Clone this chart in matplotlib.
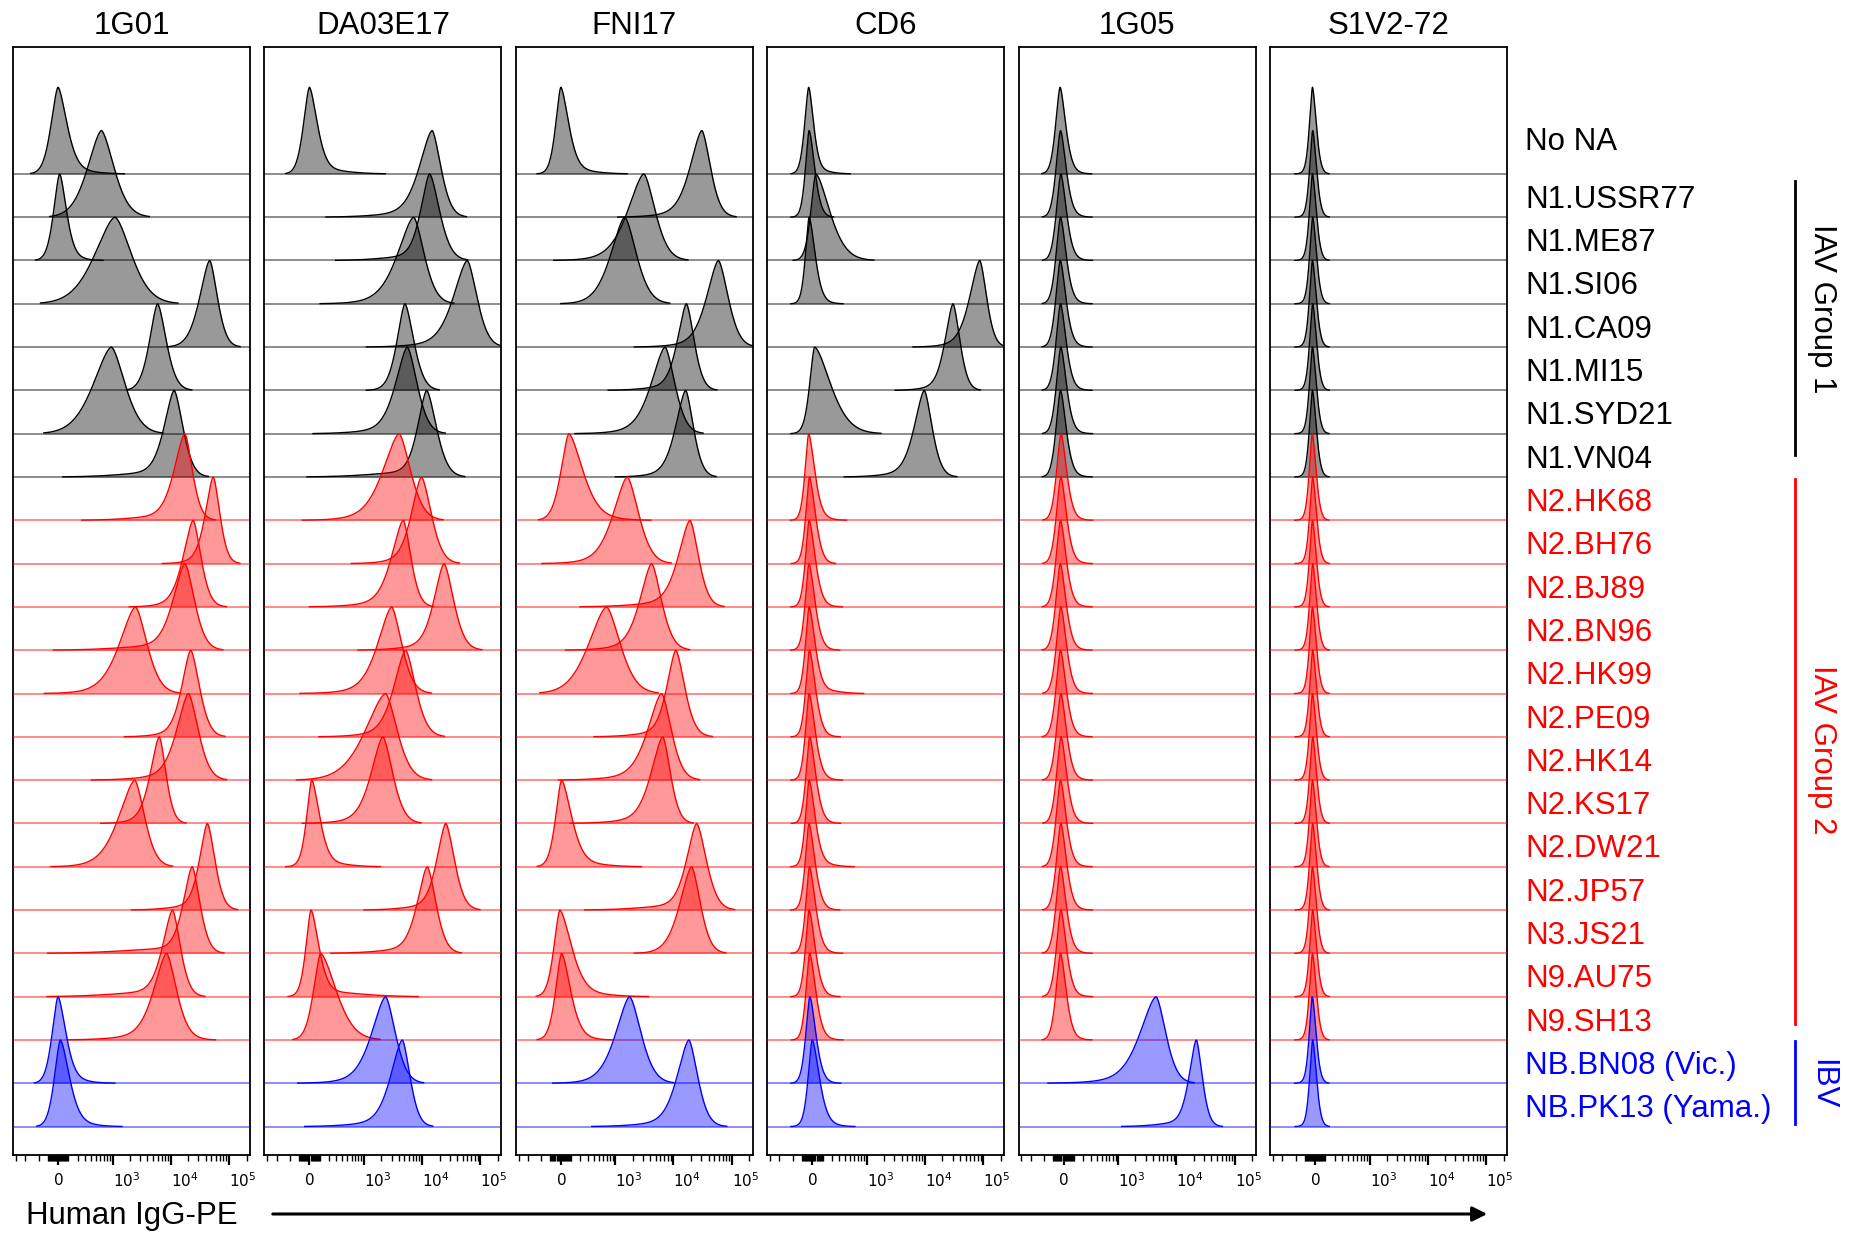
import numpy as np
import matplotlib
matplotlib.use("Agg")
import matplotlib.pyplot as plt
from matplotlib.lines import Line2D
from matplotlib.patches import FancyArrowPatch
from matplotlib.transforms import blended_transform_factory

plt.rcParams['font.family'] = ['Liberation Sans', 'DejaVu Sans']

# ---------------- data ----------------
antibodies = ["1G01", "DA03E17", "FNI17", "CD6", "1G05", "S1V2-72"]
samples = ["No NA", "N1.USSR77", "N1.ME87", "N1.SI06", "N1.CA09", "N1.MI15",
           "N1.SYD21", "N1.VN04", "N2.HK68", "N2.BH76", "N2.BJ89", "N2.BN96",
           "N2.HK99", "N2.PE09", "N2.HK14", "N2.KS17", "N2.DW21", "N2.JP57",
           "N3.JS21", "N9.AU75", "N9.SH13", "NB.BN08 (Vic.)", "NB.PK13 (Yama.)"]
sample_group = ["none"] + ["g1"] * 7 + ["g2"] * 13 + ["ibv"] * 2

# modal PE intensity of each histogram (a.u.)
peak_1G01 = [0, 631, 15, 1100, 46700, 5980, 952, 11500, 17500, 53700, 24300, 17500,
             2500, 22100, 20200, 6390, 2430, 42600, 23400, 10800, 8520, 0, 22]
peak_DA03E17 = [0, 14900, 13500, 7200, 59600, 5100, 5600, 12000, 4040, 9800, 4770, 23800,
                3020, 5240, 2370, 2130, 22, 25500, 12300, 15, 107, 2370, 4600]
peak_FNI17 = [0, 30700, 3110, 1460, 59000, 16700, 7200, 16200, 76, 1610, 19200, 4230,
              696, 11000, 6270, 6570, 7, 25000, 20500, -9, 7, 1770, 18400]
peak_CD6 = [-33, -29, 33, -29, 87400, 30400, 22, 9800, -33, -26, -29, -31, -29, -26,
            -29, -24, -29, -31, -26, -29, -24, -22, 0]
peak_1G05 = [-33, -29, -26, -29, -31, -29, -26, -29, -24, -26, -29, -31, -26, -29,
             -26, -24, -29, -26, -29, -26, -29, 4515, 22100]
peak_S1V2 = [-24, -22, -24, -22, -24, -22, -24, -24, -26, -22, -24, -22, -24, -22,
             -24, -22, -24, -22, -24, -22, -24, -26, -22]

# half widths at half maximum (left / right), in fraction of the display axis
hwl_1G01 = [.033, .065, .028, .095, .047, .038, .085, .047, .05, .037, .047, .055, .075, .042, .055, .042, .075, .037, .042, .047, .06, .028, .028]
hwr_1G01 = [.042, .06, .032, .08, .037, .042, .065, .042, .037, .032, .037, .047, .055, .042, .047, .032, .047, .037, .037, .037, .047, .037, .042]
hwl_DA03E17 = [.028, .06, .042, .075, .065, .037, .055, .042, .075, .047, .055, .047, .065, .055, .095, .055, .024, .042, .047, .024, .033, .065, .055]
hwr_DA03E17 = [.037, .042, .047, .05, .047, .042, .047, .047, .055, .047, .037, .047, .047, .047, .055, .047, .037, .042, .042, .037, .075, .047, .037]
hwl_FNI17 = [.024, .055, .075, .065, .055, .042, .065, .047, .037, .065, .055, .055, .085, .042, .065, .055, .028, .047, .055, .028, .028, .065, .055]
hwr_FNI17 = [.037, .042, .055, .055, .047, .037, .047, .037, .065, .055, .042, .047, .065, .042, .047, .037, .047, .047, .042, .055, .042, .055, .042]
hwl_CD6 = [.019, .017, .023, .017, .047, .037, .023, .047, .017, .017, .017, .017, .017, .017, .017, .017, .017, .017, .017, .017, .017, .019, .019]
hwr_CD6 = [.023, .026, .065, .028, .033, .033, .075, .037, .028, .028, .028, .028, .028, .028, .028, .028, .028, .028, .028, .028, .028, .028, .033]
hwl_1G05 = [.021] * 21 + [.075, .034]
hwr_1G05 = [.026] * 21 + [.047, .028]
hwl_S1V2 = [.014] * 23
hwr_S1V2 = [.018] * 23

# reach of the event tails beyond the mode (left / right), fraction of the axis
rl_1G01 = [.09, .193, .092, .275, .17, .12, .275, .46, .425, .205, .26, .545, .375, .27, .40, .237, .344, .31, .60, .52, .408, .085, .087]
rr_1G01 = [.27, .177, .173, .175, .10, .10, .19, .116, .075, .075, .13, .105, .156, .12, .14, .093, .136, .08, .124, .127, .197, .23, .25]
rl_DA03E17 = [.087, .438, .387, .385, .416, .153, .388, .495, .398, .286, .386, .353, .377, .356, .366, .33, .10, .335, .397, .087, .107, .361, .402]
rr_DA03E17 = [.31, .122, .15, .14, .114, .127, .127, .122, .142, .123, .084, .102, .158, .154, .184, .145, .28, .105, .113, .443, .173, .139, .098]
rl_FNI17 = [.09, .345, .37, .26, .345, .32, .37, .287, .114, .35, .455, .353, .223, .335, .425, .38, .093, .463, .232, .086, .093, .315, .40]
rr_FNI17 = [.27, .095, .125, .18, .12, .10, .126, .113, .336, .14, .095, .147, .197, .145, .12, .10, .327, .117, .113, .364, .207, .16, .15]
rl_CD6 = [.065, .067, .085, .067, .272, .234, .09, .328, .067, .067, .067, .067, .067, .067, .067, .067, .067, .067, .067, .067, .067, .07, .08]
rr_CD6 = [.165, .093, .235, .133, .083, .086, .27, .127, .15, .10, .13, .12, .22, .12, .13, .12, .18, .12, .13, .12, .13, .12, .17]
rl_1G05 = [.057] * 21 + [.446, .305]
rr_1G05 = [.123] * 21 + [.12, .10]
rl_S1V2 = [.064] * 23
rr_S1V2 = [.06] * 23

panel_data = {
    "1G01": (peak_1G01, hwl_1G01, hwr_1G01, rl_1G01, rr_1G01),
    "DA03E17": (peak_DA03E17, hwl_DA03E17, hwr_DA03E17, rl_DA03E17, rr_DA03E17),
    "FNI17": (peak_FNI17, hwl_FNI17, hwr_FNI17, rl_FNI17, rr_FNI17),
    "CD6": (peak_CD6, hwl_CD6, hwr_CD6, rl_CD6, rr_CD6),
    "1G05": (peak_1G05, hwl_1G05, hwr_1G05, rl_1G05, rr_1G05),
    "S1V2-72": (peak_S1V2, hwl_S1V2, hwr_S1V2, rl_S1V2, rr_S1V2),
}

group_color = {"none": "black", "g1": "black", "g2": "#ff0000", "ibv": "#0000ff"}

# ---------------- display scale (biexponential-like) ----------------
LIN_W = 236.0
F0 = 0.19
K = 0.107
CORE_P = 1.6


def to_frac(v):
    return F0 + K * np.arcsinh(np.asarray(v, dtype=float) / LIN_W)


def from_frac(f):
    return LIN_W * np.sinh((np.asarray(f, dtype=float) - F0) / K)


def hist_curve(vpk, hl, hr, rl, rr, n=700):
    c = float(to_frac(vpk))
    lo = max(0.0, c - max(rl, 3.2 * hl) - 0.01)
    hi = min(1.0, c + max(rr, 3.2 * hr) + 0.01)
    f = np.linspace(lo, hi, n)
    d = f - c
    h = np.where(d < 0, hl, hr)
    core = np.exp(-np.log(2) * (np.abs(d) / h) ** CORE_P)
    t = np.where(d < 0, rl, rr) / 2.6
    tail = np.exp(-0.5 * (d / t) ** 2)
    y = (core + 0.07 * tail) / 1.07
    return from_frac(f), y


W, H = 1855, 1235
fig = plt.figure(figsize=(W / 100, H / 100), dpi=100)

n = len(samples)
Y_TOP = (n - 1) + 2.93
Y_BOT = -0.656
PEAK_H = 2.0

minor_ticks = ([-600, -400, -200] + list(range(-100, 101, 10)) +
               list(range(200, 1000, 100)) + list(range(2000, 10000, 1000)) +
               list(range(20000, 100000, 10000)) + [200000])
minor_ticks = [m for m in minor_ticks if m != 0]

axes = []
for i, ab in enumerate(antibodies):
    left = 13 + i * 251.4
    ax = fig.add_axes([left / W, 1 - 1155 / H, 237 / W, 1108 / H])
    ax.set_xscale('asinh', linear_width=LIN_W)
    ax.set_xlim(float(from_frac(0.0)), float(from_frac(1.0)))
    ax.set_ylim(Y_BOT, Y_TOP)
    pk, hl, hr, rl, rr = panel_data[ab]
    for k in range(n):
        base = n - 1 - k
        col = group_color[sample_group[k]]
        ax.axhline(base, color=col, alpha=0.45, lw=1.4, zorder=1 + 3 * k)
        v, y = hist_curve(pk[k], hl[k], hr[k], rl[k], rr[k])
        ax.fill_between(v, base, base + PEAK_H * y, color=col, alpha=0.4,
                        lw=0, zorder=2 + 3 * k)
        ax.plot(v, base + PEAK_H * y, color=col, lw=1.0, zorder=3 + 3 * k)
    ax.set_yticks([])
    ax.set_xticks([0, 1e3, 1e4, 1e5], labels=['$0$', '$10^3$', '$10^4$', '$10^5$'])
    ax.set_xticks(minor_ticks, minor=True)
    ax.set_xticklabels([], minor=True)
    ax.tick_params(axis='x', which='major', length=7, width=1.6, direction='out',
                   labelsize=11, pad=5, colors='black')
    ax.tick_params(axis='x', which='minor', length=4, width=1.0, direction='out')
    for lab in ax.get_xticklabels()[1:]:
        lab.set_ha('left')
    for sp in ax.spines.values():
        sp.set_linewidth(1.3)
    fig.text((left + 118.5) / W, 1 - 26 / H, ab, ha='center', va='center', fontsize=22.5)
    axes.append(ax)

axl = axes[-1]
trans = blended_transform_factory(fig.transFigure, axl.transData)

# row labels
for k, name in enumerate(samples):
    col = group_color[sample_group[k]]
    base = n - 1 - k
    ylab = base + 0.74 if k == 0 else base + 0.40
    fig.text(1525 / W, ylab, name, transform=trans, ha='left', va='center',
             fontsize=22.5, color=col)

# group brackets
group_spans = [("IAV Group 1", "black", 21.84, 15.51, 18.88),
               ("IAV Group 2", "#ff0000", 14.96, 2.37, 8.70),
               ("IBV", "#0000ff", 1.98, 0.06, 0.98)]
for txt, col, y0, y1, yc in group_spans:
    fig.add_artist(Line2D([1795 / W, 1795 / W], [y0, y1], transform=trans,
                          color=col, lw=2.0))
    fig.text(1822 / W, yc, txt, transform=trans, rotation=270, ha='center',
             va='center', fontsize=22.5, color=col)

# x-axis title and arrow
fig.text(26 / W, 1 - 1216 / H, "Human IgG-PE", ha='left', va='center', fontsize=22.5)
arrow = FancyArrowPatch((270 / W, 1 - 1214 / H), (1490 / W, 1 - 1214 / H),
                        transform=fig.transFigure, arrowstyle='-|>',
                        mutation_scale=22, lw=2.2, color='black')
fig.add_artist(arrow)

fig.savefig("out.png", dpi=100)
